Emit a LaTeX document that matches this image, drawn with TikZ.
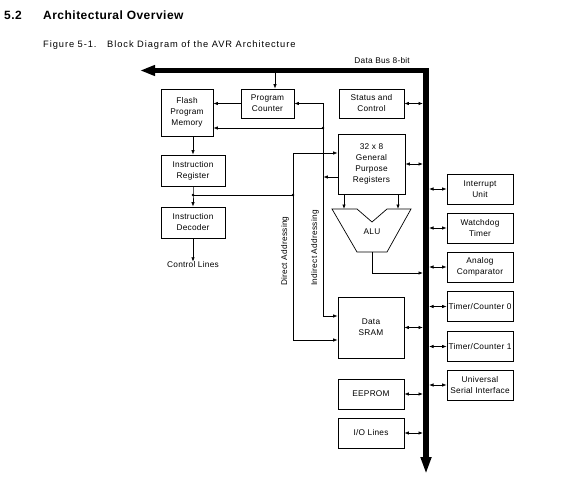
\documentclass[tikz,border=0pt]{standalone}
\usepackage{fontspec}
\setmainfont{Liberation Sans}
\newfontfamily\boxfont[LetterSpace=3]{Liberation Sans}
\newfontfamily\capfont[LetterSpace=10]{Liberation Sans}
\newfontfamily\titlefont[LetterSpace=4]{Liberation Sans}
\usetikzlibrary{arrows.meta}
\begin{document}
\begin{tikzpicture}[x=1pt,y=-1pt,
  box/.style={draw, line width=0.8pt, inner sep=0pt, align=center,
    font=\boxfont\fontsize{8.3}{11}\selectfont},
  lbl/.style={inner sep=0pt, font=\boxfont\fontsize{8.3}{11}\selectfont},
  ln/.style={line width=0.7pt},
  arr/.style={line width=0.7pt, -{Latex[length=4.5pt,width=3.5pt]}},
  darr/.style={line width=0.7pt, {Latex[length=4.5pt,width=3.5pt]}-{Latex[length=4.5pt,width=3.5pt]}},
  bus/.style={line width=5.5pt, line join=miter, {Triangle[length=15pt,width=10pt]}-{Triangle[length=17pt,width=10pt]}},
  dot/.style={circle, fill, inner sep=0pt, minimum size=2.6pt}]
\useasboundingbox (0,0) rectangle (583,481);

% titles
\node[anchor=west, inner sep=0pt, font=\titlefont\bfseries\fontsize{12}{14}\selectfont] (secnum) at (4,15.5) {5.2};
\node[anchor=west, inner sep=0pt, font=\titlefont\bfseries\fontsize{12}{14}\selectfont] (title) at (43,15.5) {Architectural Overview};
\node[anchor=west, inner sep=0pt, font=\capfont\fontsize{9.3}{11}\selectfont] (fig) at (43,45.5) {Figure 5-1.};
\node[anchor=west, inner sep=0pt, font=\capfont\fontsize{9.3}{11}\selectfont] (cap) at (107,45.5) {Block Diagram of the AVR Architecture};

% bus
\coordinate (busL) at (140,70.5);
\coordinate (busC) at (426,70.5);
\coordinate (busB) at (426,474);
\draw[bus] (busL) -- (busC) -- (busB);
\node[lbl, anchor=east] (buslbl) at (410,61) {Data Bus 8-bit};

% left column
\node[box, minimum width=52pt, minimum height=47pt] (flash) at (187,112.5) {Flash\\Program\\Memory};
\node[box, minimum width=53pt, minimum height=29pt] (pc) at (267.5,103.5) {Program\\Counter};
\node[box, minimum width=64pt, minimum height=31pt] (ir) at (193,170.5) {Instruction\\Register};
\node[box, minimum width=64pt, minimum height=31pt] (dec) at (193,222.5) {Instruction\\Decoder};
\node[lbl] (ctrl) at (193,265) {Control Lines};

% middle column
\node[box, minimum width=65pt, minimum height=29pt] (sc) at (371.5,103.5) {Status and\\Control};
\node[box, minimum width=67pt, minimum height=60pt] (gpr) at (371.5,164) {32 x 8\\General\\Purpose\\Registers};
\node[box, minimum width=66pt, minimum height=61pt] (sram) at (371,327.5) {Data\\SRAM};
\node[box, minimum width=66pt, minimum height=30pt] (eeprom) at (371,394) {EEPROM};
\node[box, minimum width=66pt, minimum height=30pt] (io) at (371,433) {I/O Lines};

% right column
\node[box, minimum width=66pt, minimum height=30pt] (int) at (480,189) {Interrupt\\Unit};
\node[box, minimum width=66pt, minimum height=30pt] (wdt) at (480,228) {Watchdog\\Timer};
\node[box, minimum width=66pt, minimum height=30pt] (ana) at (480,267) {Analog\\Comparator};
\node[box, minimum width=66pt, minimum height=30pt] (tc0) at (480,306.5) {Timer/Counter 0};
\node[box, minimum width=66pt, minimum height=30pt] (tc1) at (480,346.5) {Timer/Counter 1};
\node[box, minimum width=66pt, minimum height=30pt] (usi) at (480,385) {Universal\\Serial Interface};

% ALU
\coordinate (a1) at (332,209);
\coordinate (a2) at (357,209);
\coordinate (a3) at (372,222);
\coordinate (a4) at (387,209);
\coordinate (a5) at (411,209);
\coordinate (a6) at (387,252);
\coordinate (a7) at (357,252);
\draw[ln] (a1) -- (a2) -- (a3) -- (a4) -- (a5) -- (a6) -- (a7) -- cycle;
\node[lbl] (alu) at (372,232) {ALU};
\coordinate (aluout) at (372,252);

% bus to program counter
\coordinate (pcin) at (275,73.5);
\draw[arr] (pcin) -- (pcin |- pc.north);
\draw[arr] (pc.west) -- (flash.east |- pc.west);

% indirect addressing line
\coordinate (indtop) at (323,103.5);
\coordinate (inddot) at (323,128);
\coordinate (indbot) at (323,316);
\coordinate (indmid) at (323,177);
\draw[arr] (inddot) -- (indtop) -- (pc.east);
\draw[arr] (inddot) -- (flash.east |- inddot);
\draw[arr] (inddot) -- (indbot) -- (sram.west |- indbot);
\draw[arr] (gpr.west |- indmid) -- ([xshift=0.4pt]indmid);
\node[dot] (d1) at (inddot) {};

% flash to IR, IR to decoder, direct addressing
\coordinate (irdot) at (193,195);
\coordinate (dirdot) at (293,195);
\coordinate (dirtop) at (293,153);
\coordinate (dirbot) at (293,340);
\draw[arr] (flash.south -| ir.north) -- (ir.north);
\draw[arr] (ir.south) -- (irdot) -- (dec.north);
\draw[ln] (irdot) -- (dirdot);
\draw[arr] (dirdot) -- (dirtop) -- (gpr.west |- dirtop);
\draw[arr] (dirdot) -- (dirbot) -- (sram.west |- dirbot);
\node[dot] (d2) at (irdot) {};
\node[dot] (d3) at (dirdot) {};
\draw[arr] (dec.south) -- (ctrl.north);

\node[lbl, rotate=90] (dirlbl) at (285,251) {Direct Addressing};
\node[lbl, rotate=90] (indlbl) at (315,248) {Indirect Addressing};

% GPR to ALU
\draw[arr] (gpr.south -| 344,0) -- (344,209);
\draw[arr] (gpr.south -| 398,0) -- (398,209);
% ALU output
\coordinate (alucorner) at (372,273);
\draw[arr] (aluout) -- (alucorner) -- (423,273);

% bus double arrows
\draw[darr] (sc.east) -- (423,103.5);
\draw[darr] (gpr.east) -- (423,164);
\draw[darr] (sram.east) -- (423,327.5);
\draw[darr] (eeprom.east) -- (423,394);
\draw[darr] (io.east) -- (423,433);
\foreach \n in {int,wdt,ana,tc0,tc1,usi}{
  \draw[darr] (\n.west -| 429,0) -- (\n.west);
}
\end{tikzpicture}
\end{document}
